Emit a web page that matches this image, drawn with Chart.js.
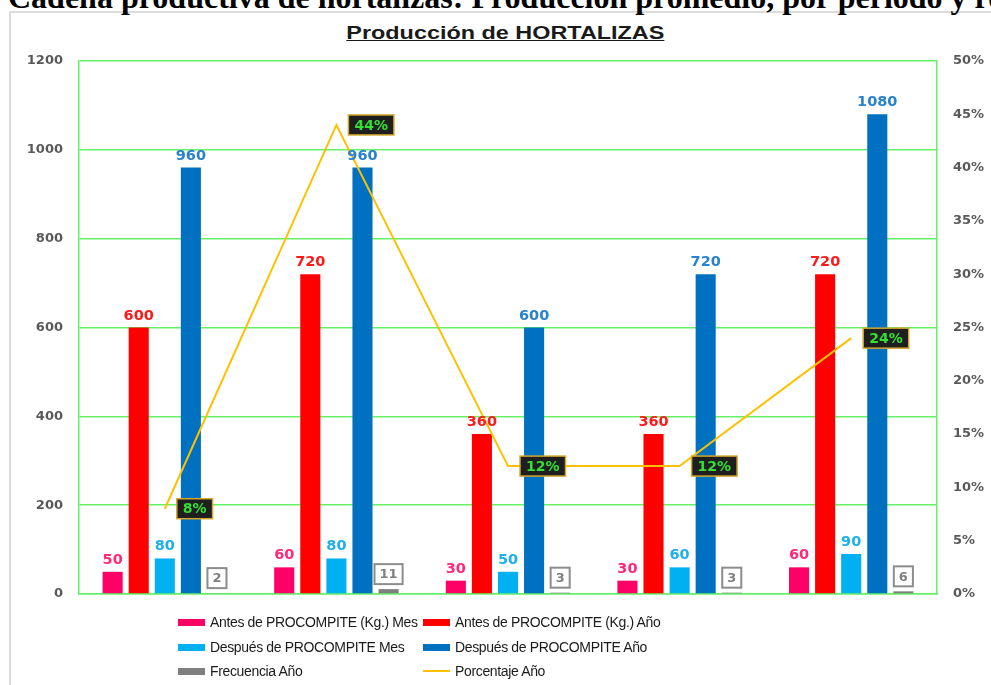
<!DOCTYPE html>
<html>
<head>
<meta charset="utf-8">
<script src="https://cdn.jsdelivr.net/npm/chart.js@4.4.1/dist/chart.umd.min.js"></script>
<style>
  body { margin: 0; background: #fff; width: 991px; height: 685px; overflow: hidden; position: relative; }
  #frame { position: absolute; left: 9px; top: 11px; width: 1100px; height: 700px; border: 2px solid #dcdcdc; }
  #top { position: absolute; left: 8px; top: -19px; font: bold 32px "Liberation Serif", "Times New Roman", serif; line-height: 32px; white-space: nowrap; color: #000; }
  #title { position: absolute; left: 0; width: 1010px; top: 23px; text-align: center; }
  #title span { display: inline-block; font: bold 18px "Liberation Sans", Arial, sans-serif; color: #1a1a1a; text-decoration: underline; transform: scaleX(1.3); }
  canvas { position: absolute; left: 0; top: 0; }
  #legend { position: absolute; left: 0; top: 0; font: 14px "Liberation Sans", Arial, sans-serif; letter-spacing: -0.35px; color: #1a1a1a; }
  .item { position: absolute; white-space: nowrap; height: 20px; line-height: 20px; }
  .sw { display: inline-block; width: 27px; height: 7px; vertical-align: middle; margin-right: 5px; margin-top: -2px; }
</style>
</head>
<body>
<div id="frame"></div>
<div id="top">Cadena productiva de hortalizas: Producción promedio, por periodo y región</div>
<div id="title"><span>Producción de HORTALIZAS</span></div>
<canvas id="hortalizasChart" width="991" height="685"></canvas>
<div id="legend"></div>
<script>
const categories = ["1", "2", "3", "4", "5"];
const antesMes = [50, 60, 30, 30, 60];
const antesAnio = [600, 720, 360, 360, 720];
const despuesMes = [80, 80, 50, 60, 90];
const despuesAnio = [960, 960, 600, 720, 1080];
const frecuenciaAnio = [2, 11, 3, 3, 6];
const porcentajeAnio = [8, 44, 12, 12, 24];
const leftTicks = [0, 200, 400, 600, 800, 1000, 1200];

const green = "#66f066";
const tickFont = { family: "DejaVu Sans", weight: "bold", size: 13 };

const barSet = (label, data, color, labelColor) => ({
  type: "bar", label, data, backgroundColor: color, borderWidth: 0,
  yAxisID: "y", order: 1, labelColor
});

const hortalizasData = {
  labels: categories,
  datasets: [
    barSet("Antes de PROCOMPITE (Kg.) Mes", antesMes, "#ff0066", "#ff2a78"),
    barSet("Antes de PROCOMPITE (Kg.) Año", antesAnio, "#ff0000", "#ff1a1a"),
    barSet("Después de PROCOMPITE Mes", despuesMes, "#00b0f0", "#1fb0ea"),
    barSet("Después de PROCOMPITE Año", despuesAnio, "#0070c0", "#2a82cc"),
    barSet("Frecuencia Año", frecuenciaAnio, "#7f7f7f", "#7f7f7f"),
    {
      type: "line", label: "Porcentaje Año", data: porcentajeAnio,
      borderColor: "#ffc000", borderWidth: 2, pointRadius: 0, tension: 0,
      yAxisID: "y1", order: 0
    }
  ]
};

// value labels drawn on top of the marks
const valueLabels = {
  id: "valueLabels",
  afterDatasetsDraw(chart) {
    const ctx = chart.ctx;
    ctx.save();
    chart.data.datasets.forEach((ds, i) => {
      const meta = chart.getDatasetMeta(i);
      meta.data.forEach((el, j) => {
        const v = ds.data[j];
        if (ds.type === "line") {
          const txt = v + "%";
          ctx.font = "bold 14px 'DejaVu Sans'";
          const w = ctx.measureText(txt).width + 12;
          const x0 = el.x + 12, y0 = el.y - 10;
          ctx.fillStyle = "#1f1f1f";
          ctx.fillRect(x0, y0, w, 20);
          ctx.strokeStyle = "#d4a72c";
          ctx.lineWidth = 1.5;
          ctx.strokeRect(x0, y0, w, 20);
          ctx.fillStyle = "#33e033";
          ctx.textAlign = "center";
          ctx.textBaseline = "middle";
          ctx.fillText(txt, x0 + w / 2, el.y + 1);
        } else if (i === 4) {
          const txt = String(v);
          ctx.font = "bold 13px 'DejaVu Sans'";
          const w = ctx.measureText(txt).width + 10;
          const x0 = el.x - w / 2, y0 = el.y - 25;
          ctx.fillStyle = "#fff";
          ctx.fillRect(x0, y0, w, 20);
          ctx.strokeStyle = "#8c8c8c";
          ctx.lineWidth = 2;
          ctx.strokeRect(x0, y0, w, 20);
          ctx.fillStyle = "#7f7f7f";
          ctx.textAlign = "center";
          ctx.textBaseline = "middle";
          ctx.fillText(txt, el.x, y0 + 11);
        } else {
          ctx.font = "bold 14.5px 'DejaVu Sans'";
          ctx.fillStyle = ds.labelColor;
          ctx.textAlign = "center";
          ctx.textBaseline = "alphabetic";
          ctx.fillText(String(v), el.x, el.y - 8);
        }
      });
    });
    ctx.restore();
  }
};

const hortalizasCtx = document.getElementById("hortalizasChart");

const hortalizasChart = new Chart(hortalizasCtx, {
  data: hortalizasData,
  options: {
    responsive: false,
    animation: false,
    layout: { padding: { top: 61, left: 0, right: 0, bottom: 0 } },
    datasets: { bar: { categoryPercentage: 0.76, barPercentage: 0.77 } },
    plugins: { legend: { display: false }, tooltip: { enabled: false } },
    scales: {
      x: {
        grid: { display: false },
        border: { display: true, color: green, width: 1.5 },
        ticks: { display: false },
        afterFit: (s) => { s.height = 91; }
      },
      y: {
        min: 0, max: 1200,
        afterBuildTicks: (s) => { s.ticks = leftTicks.map((v) => ({ value: v })); },
        grid: { color: green, lineWidth: 1.5, drawTicks: false },
        border: { display: true, color: green, width: 1.5 },
        ticks: { font: tickFont, color: "#595959", padding: 16, callback: (v) => String(v) },
        afterFit: (s) => { s.width = 79; }
      },
      y1: {
        position: "right",
        min: 0, max: 50,
        grid: { drawOnChartArea: false, drawTicks: false },
        border: { display: true, color: green, width: 1.5 },
        ticks: { stepSize: 5, font: tickFont, color: "#595959", padding: 16, callback: (v) => v + "%" },
        afterFit: (s) => { s.width = 54; }
      }
    }
  },
  plugins: [valueLabels]
});

// two-column legend built from the chart's datasets
const legendPos = [[178, 612], [423, 612], [178, 637], [423, 637], [178, 661], [423, 661]];
const legendEl = document.getElementById("legend");
hortalizasData.datasets.forEach((ds, i) => {
  const item = document.createElement("div");
  item.className = "item";
  item.style.left = legendPos[i][0] + "px";
  item.style.top = legendPos[i][1] + "px";
  const sw = document.createElement("span");
  sw.className = "sw";
  if (ds.type === "line") {
    sw.style.height = "2px";
    sw.style.background = ds.borderColor;
  } else {
    sw.style.background = ds.backgroundColor;
  }
  item.appendChild(sw);
  item.appendChild(document.createTextNode(ds.label));
  legendEl.appendChild(item);
});
</script>
</body>
</html>
